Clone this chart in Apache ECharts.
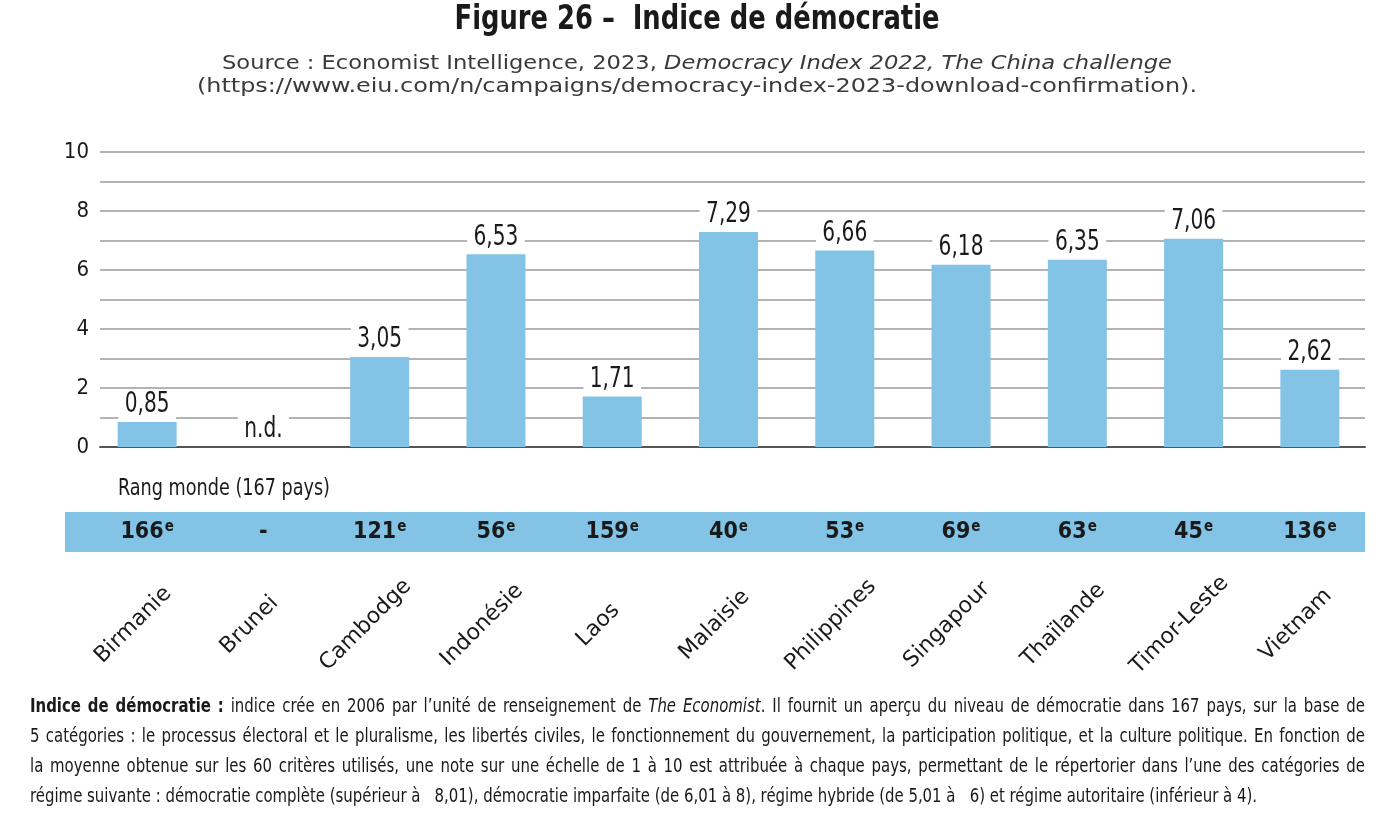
<html>
<head>
  <meta charset="utf-8" />
  <script src="https://cdn.jsdelivr.net/npm/echarts@6/dist/echarts.min.js"></script>
  <style>
    html, body { margin: 0; padding: 0; background: #fff; }
    #chart { width: 1394px; height: 827px; }
  </style>
</head>
<body>
  <div id="chart"></div>
  <script>
    var countries = ['Birmanie', 'Brunei', 'Cambodge', 'Indonésie', 'Laos', 'Malaisie', 'Philippines', 'Singapour', 'Thaïlande', 'Timor-Leste', 'Vietnam'];
    var scores = [0.85, null, 3.05, 6.53, 1.71, 7.29, 6.66, 6.18, 6.35, 7.06, 2.62];
    var ranks = ['166', '-', '121', '56', '159', '40', '53', '69', '63', '45', '136'];
    var yTicks = [0, 2, 4, 6, 8, 10];

    var NARROW = "'DejaVu Sans Condensed', 'Liberation Sans', sans-serif";
    var WIDE = "'DejaVu Sans', 'Open Sans', sans-serif";
    var BLUE = '#82c3e6';
    var INK = '#1a1a1a';

    var fmt = function (v) { return v === null ? 'n.d.' : v.toFixed(2).replace('.', ','); };

    var noteLines = [
      '{b|Indice de démocratie :} indice crée en 2006 par l’unité de renseignement de {i|The Economist}. Il fournit un aperçu du niveau de démocratie dans 167 pays, sur la base de',
      '5 catégories : le processus électoral et le pluralisme, les libertés civiles, le fonctionnement du gouvernement, la participation politique, et la culture politique. En fonction de',
      'la moyenne obtenue sur les 60 critères utilisés, une note sur une échelle de 1 à 10 est attribuée à chaque pays, permettant de le répertorier dans l’une des catégories de',
      'régime suivante : démocratie complète (supérieur à   8,01), démocratie imparfaite (de 6,01 à 8), régime hybride (de 5,01 à   6) et régime autoritaire (inférieur à 4).'
    ];

    // measure a line (with {b|..} / {i|..} parts) so it can be squeezed to the width of the original
    var ctx = document.createElement('canvas').getContext('2d');
    function lineWidth(line, size, family, weight) {
      var w = 0, re = /\{(\w)\|([^}]*)\}/g, last = 0, m;
      function add(str, style, wt) {
        ctx.font = style + ' ' + wt + ' ' + size + 'px ' + family;
        w += ctx.measureText(str).width;
      }
      while ((m = re.exec(line))) {
        add(line.slice(last, m.index), 'normal', weight);
        add(m[2], m[1] === 'i' ? 'italic' : 'normal', m[1] === 'b' ? 'bold' : weight);
        last = re.lastIndex;
      }
      add(line.slice(last), 'normal', weight);
      return w;
    }
    function textEl(line, x, y, sx, size, family, weight, fill) {
      fill = fill || INK;
      return {
        type: 'text', x: x, y: y, scaleX: sx,
        style: {
          text: line, fontSize: size, fontFamily: family, fontWeight: weight, fill: fill,
          align: 'left', verticalAlign: 'middle',
          rich: {
            b: { fontSize: size, fontFamily: family, fontWeight: 'bold', fill: fill },
            i: { fontSize: size, fontFamily: family, fontStyle: 'italic', fontWeight: weight, fill: fill }
          }
        }
      };
    }
    function fitText(line, x, y, width, size, family, weight, align, fill) {
      var sx = width / lineWidth(line, size, family, weight);
      return textEl(line, align === 'center' ? x - width / 2 : x, y, sx, size, family, weight, fill);
    }
    // split a rich line into words (keeping their {b|}/{i|} styles)
    function words(line) {
      var segs = [], re = /\{(\w)\|([^}]*)\}/g, last = 0, m;
      while ((m = re.exec(line))) {
        segs.push({ t: line.slice(last, m.index), k: '' });
        segs.push({ t: m[2], k: m[1] });
        last = re.lastIndex;
      }
      segs.push({ t: line.slice(last), k: '' });
      var out = [[]];
      segs.forEach(function (s) {
        s.t.split(' ').forEach(function (p, j) {
          if (j > 0) out.push([]);
          if (p) out[out.length - 1].push(s.k ? '{' + s.k + '|' + p + '}' : p);
        });
      });
      return out.map(function (w) { return w.join(''); }).filter(function (w) { return w; });
    }
    function justify(line, x, y, width, sx, size, family) {
      var ws = words(line);
      var lens = ws.map(function (w) { return lineWidth(w, size, family, 'normal') * sx; });
      var total = lens.reduce(function (a, b) { return a + b; }, 0);
      var gap = (width - total) / (ws.length - 1);
      if (gap < 2) {
        // not enough room: squeeze the glyphs a little more
        var k = (width - 2 * (ws.length - 1)) / total;
        lens = lens.map(function (l) { return l * k; });
        sx *= k;
        gap = 2;
      }
      var cx = x, els = [];
      ws.forEach(function (w, i) {
        els.push(textEl(w, cx, y, sx, size, family, 'normal'));
        cx += lens[i] + gap;
      });
      return els;
    }

    var graphics = [
      { type: 'rect', shape: { x: 65, y: 512, width: 1300, height: 40 }, style: { fill: BLUE }, z: 0 },
      fitText('Figure 26 –  Indice de démocratie', 697, 20, 485, 34, NARROW, 'bold', 'center'),
      fitText('Source : Economist Intelligence, 2023, {i|Democracy Index 2022, The China challenge}', 697, 64, 950, 19, WIDE, 'normal', 'center', '#3a3a3a'),
      fitText('(https://www.eiu.com/n/campaigns/democracy-index-2023-download-confirmation).', 697, 87, 1000, 19, WIDE, 'normal', 'center', '#3a3a3a'),
      fitText('Rang monde (167 pays)', 118, 489, 212, 23, NARROW, 'normal', 'left')
    ];
    // last line is set flush left, the others are justified with the same glyph squeeze
    var noteSize = 20;
    var noteScale = 1227 / lineWidth(noteLines[3], noteSize, NARROW, 'normal');
    noteLines.forEach(function (l, i) {
      if (i < 3) {
        graphics = graphics.concat(justify(l, 30, 707 + i * 30, 1335, noteScale, noteSize, NARROW));
      } else {
        graphics.push(textEl(l, 30, 707 + i * 30, noteScale, noteSize, NARROW, 'normal'));
      }
    });

    var chart = echarts.init(document.getElementById('chart'));

    var option = {
      animation: false,
      grid: [
        { left: 100, right: 29, top: 152, bottom: 380 },
        { left: 89, right: 26, top: 152, bottom: 380 },
        { left: 75, right: 40, top: 152, bottom: 380 }
      ],
      xAxis: [
        {
          gridIndex: 0, type: 'category', data: countries,
          axisLine: { lineStyle: { color: '#555', width: 2 } },
          axisTick: { show: false }, axisLabel: { show: false }
        },
        {
          gridIndex: 1, type: 'category', data: countries,
          axisLine: { show: false }, axisTick: { show: false },
          axisLabel: {
            margin: 73, interval: 0,
            formatter: function (v, i) {
              return ranks[i] === '-' ? '{n|-}' : '{n|' + ranks[i] + '}{s|e}';
            },
            rich: {
              n: { fontFamily: NARROW, fontWeight: 'bold', fontSize: 23, color: INK, lineHeight: 24 },
              s: { fontFamily: NARROW, fontWeight: 'bold', fontSize: 15, color: INK, verticalAlign: 'top', padding: [0, 0, 0, 1] }
            }
          }
        },
        {
          gridIndex: 2, type: 'category', data: countries,
          axisLine: { show: false }, axisTick: { show: false },
          axisLabel: {
            interval: 0, rotate: 45, margin: 178, align: 'center', verticalAlign: 'middle',
            fontFamily: WIDE, fontSize: 22, color: INK
          }
        }
      ],
      yAxis: [
        {
          gridIndex: 0, type: 'value', min: 0, max: 10, interval: 1,
          axisLine: { show: false }, axisTick: { show: false },
          splitLine: { lineStyle: { color: '#9a9a9a', width: 1.5 } },
          axisLabel: {
            margin: 11, fontFamily: NARROW, fontSize: 22, color: INK,
            formatter: function (v) { return yTicks.indexOf(v) >= 0 ? String(v) : ''; }
          }
        },
        { gridIndex: 1, type: 'value', min: 0, max: 10, show: false },
        { gridIndex: 2, type: 'value', min: 0, max: 10, show: false }
      ],
      graphic: graphics,
      series: [
        {
          type: 'bar', xAxisIndex: 1, yAxisIndex: 1,
          data: scores.map(function (v) { return v === null ? '-' : v; }),
          barWidth: 59,
          itemStyle: { color: BLUE },
          z: 3
        },
        {
          // value labels, squeezed like the condensed face of the original
          type: 'custom', xAxisIndex: 1, yAxisIndex: 1, z: 4,
          data: scores.map(function (v, i) { return [i, v === null ? 0 : v]; }),
          renderItem: function (params, api) {
            var pt = api.coord([api.value(0), api.value(1)]);
            return {
              type: 'text',
              x: pt[0], y: pt[1] - 3,
              scaleX: 0.8,
              style: {
                text: fmt(scores[params.dataIndex]),
                fontFamily: NARROW, fontSize: 28, fill: INK,
                align: 'center', verticalAlign: 'bottom',
                backgroundColor: '#fff', padding: [0, 8, 0, 8]
              }
            };
          }
        }
      ]
    };

    chart.setOption(option);
  </script>
</body>
</html>
